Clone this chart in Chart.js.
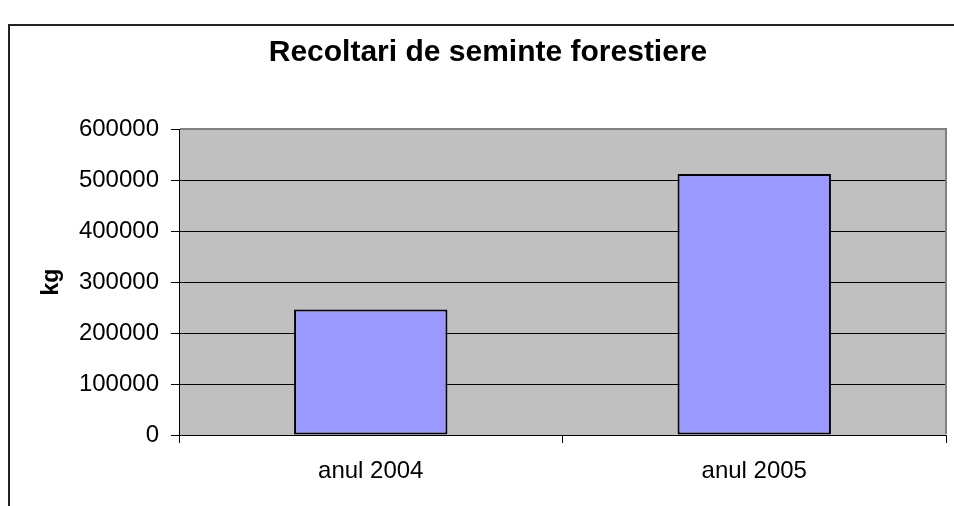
<!DOCTYPE html>
<html>
<head>
<meta charset="utf-8">
<script src="https://cdn.jsdelivr.net/npm/chart.js@4"></script>
<style>
  html, body { margin: 0; padding: 0; background: #fff; width: 954px; height: 506px; overflow: hidden; }
  #frame { position: absolute; left: 8px; top: 24px; width: 2000px; height: 2000px; border-left: 2px solid #222; border-top: 2px solid #222; z-index: 0; }
  #wrap { position: absolute; left: 0; top: 0; width: 976px; height: 506px; z-index: 1; }
</style>
</head>
<body>
<div id="frame"></div>
<div id="wrap"><canvas id="c"></canvas></div>
<script>
const chartTitle = 'Recoltari de seminte forestiere';
const categories = ['anul 2004', 'anul 2005'];
const harvestKg = [246000, 512000];
const yAxisTitle = 'kg';
const yMin = 0, yMax = 600000, yStep = 100000;

const FONT = '"Liberation Sans", Arial, sans-serif';

const plotArea = {
  id: 'plotArea',
  beforeDraw(chart) {
    const {ctx, chartArea: a} = chart;
    ctx.save();
    ctx.fillStyle = '#C0C0C0';
    ctx.fillRect(a.left, a.top, a.right - a.left, a.bottom - a.top);
    ctx.restore();
  },
  beforeDatasetsDraw(chart) {
    const {ctx, chartArea: a} = chart;
    ctx.save();
    ctx.strokeStyle = '#808080';
    ctx.lineWidth = 2;
    ctx.beginPath();
    ctx.moveTo(a.left + 1, a.top);
    ctx.lineTo(a.right, a.top);
    ctx.lineTo(a.right, a.bottom - 1);
    ctx.stroke();
    ctx.restore();
  }
};

new Chart(document.getElementById('c'), {
  type: 'bar',
  data: {
    labels: categories,
    datasets: [{
      data: harvestKg,
      backgroundColor: '#9999FF',
      borderColor: '#000000',
      borderWidth: 2,
      borderSkipped: false,
      barPercentage: 0.4,
      categoryPercentage: 1.0
    }]
  },
  options: {
    responsive: true,
    maintainAspectRatio: false,
    animation: false,
    layout: { padding: { left: 30, right: 30, top: 0, bottom: 0 } },
    plugins: {
      legend: { display: false },
      tooltip: { enabled: false },
      title: {
        display: true,
        text: chartTitle,
        color: '#000',
        font: { family: FONT, size: 30, weight: 'bold' },
        padding: { top: 35, bottom: 58 }
      }
    },
    scales: {
      x: {
        offset: true,
        grid: { display: true, drawOnChartArea: false, drawTicks: true, tickLength: 8, color: '#000', offset: true },
        border: { display: true, color: '#000', width: 1 },
        ticks: { color: '#000', font: { family: FONT, size: 24 }, padding: 14, maxRotation: 0 },
        afterFit(s) { s.height = 71; }
      },
      y: {
        min: yMin, max: yMax,
        grid: { color: '#000', lineWidth: 1, drawTicks: true, tickLength: 8 },
        border: { display: true, color: '#000', width: 1 },
        ticks: { stepSize: yStep, color: '#000', font: { family: FONT, size: 24 }, padding: 12,
                 callback: v => String(v) },
        title: { display: true, text: yAxisTitle, color: '#000',
                 font: { family: FONT, size: 23, weight: 'bold' }, padding: { top: 8, bottom: 0 } },
        afterFit(s) { s.width = 149; }
      }
    }
  },
  plugins: [plotArea]
});
</script>
</body>
</html>
